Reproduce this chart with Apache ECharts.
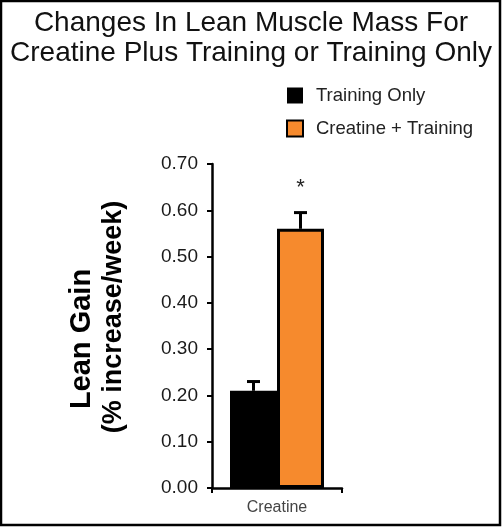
<!DOCTYPE html>
<html>
<head>
<meta charset="utf-8">
<script src="https://cdn.jsdelivr.net/npm/echarts@6/dist/echarts.min.js"></script>
<style>
html,body{margin:0;padding:0;background:#fff;}
#chart{width:502px;height:527px;}
</style>
</head>
<body>
<div id="chart"></div>
<script>
// ---- data ----
var categories = ['Creatine'];
var seriesNames = ['Training Only', 'Creatine + Training'];
var trainingOnly = [0.21];
var creatineTraining = [0.56];
var trainingOnlyErr = [0.02];
var creatineTrainingErr = [0.035];
var significance = ['', '*'];
var yTicks = [0, 0.1, 0.2, 0.3, 0.4, 0.5, 0.6, 0.7];

var FONT = '"Liberation Sans", Arial, Helvetica, sans-serif';
var BAR_W = 47;

var errData = [
  [0, trainingOnly[0], trainingOnlyErr[0], 0],
  [0, creatineTraining[0], creatineTrainingErr[0], 1]
];

var chart = echarts.init(document.getElementById('chart'));
chart.setOption({
  animation: false,
  backgroundColor: '#fff',
  textStyle: { fontFamily: FONT },
  title: {
    text: 'Changes In Lean Muscle Mass For\nCreatine Plus Training or Training Only',
    left: 'center',
    top: 3,
    textStyle: { fontFamily: FONT, fontSize: 28, fontWeight: 'normal', color: '#111', lineHeight: 30 }
  },
  legend: {
    orient: 'vertical',
    left: 281,
    top: 81,
    itemWidth: 16,
    itemHeight: 16,
    itemGap: 14,
    icon: 'rect',
    data: seriesNames,
    textStyle: { fontFamily: FONT, fontSize: 18.5, color: '#222', padding: [0, 0, 0, 8] }
  },
  grid: { left: 212, right: 160, top: 164, bottom: 39, containLabel: false },
  xAxis: {
    type: 'category',
    data: categories,
    boundaryGap: true,
    axisLine: { lineStyle: { color: '#000', width: 2.5 } },
    axisTick: { show: true, length: 5, lineStyle: { color: '#000', width: 2 } },
    axisLabel: { fontFamily: FONT, fontSize: 16, color: '#444', margin: 12 }
  },
  yAxis: {
    type: 'value',
    min: yTicks[0],
    max: yTicks[yTicks.length - 1],
    interval: 0.1,
    splitLine: { show: false },
    axisLine: { show: true, lineStyle: { color: '#000', width: 2.5 } },
    axisTick: { show: true, length: 5, lineStyle: { color: '#000', width: 2 } },
    axisLabel: {
      fontFamily: FONT, fontSize: 19, color: '#1a1a1a', margin: 14,
      formatter: function (v) { return v.toFixed(2); }
    }
  },
  series: [
    {
      name: seriesNames[0],
      type: 'bar',
      data: trainingOnly,
      barWidth: BAR_W,
      barGap: '0%',
      itemStyle: { color: '#000', borderColor: '#000', borderWidth: 0 }
    },
    {
      name: seriesNames[1],
      type: 'bar',
      data: creatineTraining,
      barWidth: BAR_W,
      barGap: '0%',
      itemStyle: { color: '#F68A2D', borderColor: '#000', borderWidth: 3 }
    },
    {
      type: 'custom',
      data: errData,
      z: 5,
      renderItem: function (params, api) {
        var idx = api.value(3);
        var top = api.coord([api.value(0), api.value(1) + api.value(2)]);
        var base = api.coord([api.value(0), api.value(1)]);
        var x = base[0] + (idx === 0 ? -BAR_W / 2 : BAR_W / 2);
        var cap = 6.5;
        var children = [
          { type: 'line', shape: { x1: x, y1: base[1], x2: x, y2: top[1] }, style: { stroke: '#000', lineWidth: 3 } },
          { type: 'line', shape: { x1: x - cap, y1: top[1], x2: x + cap, y2: top[1] }, style: { stroke: '#000', lineWidth: 3 } }
        ];
        var sig = significance[idx];
        if (sig) {
          children.push({
            type: 'text',
            style: { text: sig, x: x, y: top[1] - 25, textAlign: 'center', textVerticalAlign: 'middle', font: '22px ' + FONT, fill: '#222' }
          });
        }
        return { type: 'group', children: children };
      }
    }
  ],
  graphic: [
    {
      type: 'rect',
      shape: { x: 1, y: 1, width: 499, height: 524 },
      style: { fill: 'none', stroke: '#000', lineWidth: 2.5 },
      silent: true
    },
    {
      type: 'text',
      x: 82, y: 339,
      rotation: Math.PI / 2,
      style: { text: 'Lean Gain', font: 'bold 29px ' + FONT, fill: '#000', textAlign: 'center', textVerticalAlign: 'middle' }
    },
    {
      type: 'text',
      x: 114, y: 317,
      rotation: Math.PI / 2,
      style: { text: '(% increase/week)', font: 'bold 27px ' + FONT, fill: '#000', textAlign: 'center', textVerticalAlign: 'middle' }
    }
  ]
});
</script>
</body>
</html>
